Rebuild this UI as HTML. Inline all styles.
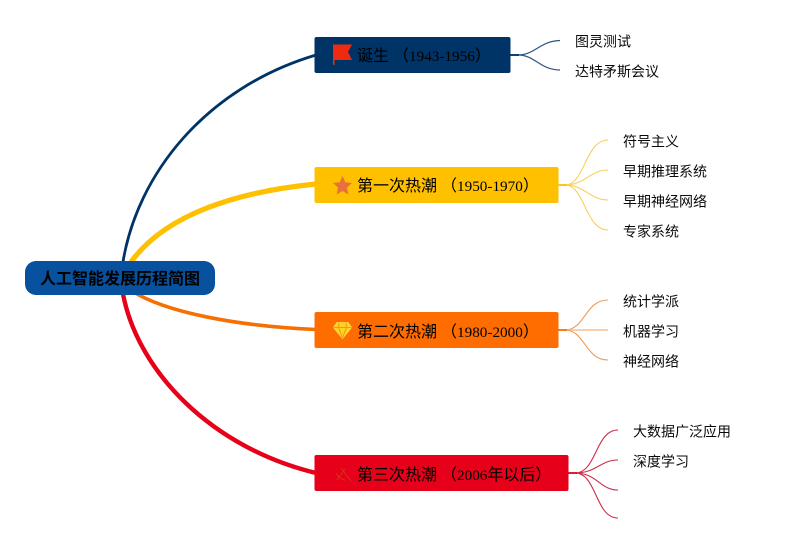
<!DOCTYPE html>
<html><head><meta charset="utf-8">
<style>
html,body{margin:0;padding:0;background:#fff;}
body{width:791px;height:543px;overflow:hidden;}
svg{display:block;}
text{font-family:"Liberation Serif","Noto Sans CJK SC",serif;font-size:14px;fill:#0a0a0a;}
.b{font-size:16px;fill:#000;}
.n{font-size:15.2px;}
</style></head><body>
<svg width="791" height="543" viewBox="0 0 791 543" xmlns="http://www.w3.org/2000/svg">
<g fill="none">
<path d="M123 262C137 175 205 88 316 55" stroke="#003366" stroke-width="2.800"/>
<path d="M131 262C165 215 235 192 316 184" stroke="#ffc000" stroke-width="5.200"/>
<path d="M132 291C165 312 235 326 316 329.500" stroke="#f57000" stroke-width="3.600"/>
<path d="M123 294C138 372 212 448 316 473" stroke="#e60019" stroke-width="4.400"/>
<g stroke="#2f5580" stroke-width="1.200">
<path d="M510 55H518C535 55 540 41 560 40.500"/>
<path d="M510 55H518C535 55 540 70 560 70"/>
<path d="M510 55H519" stroke="#003366" stroke-width="1.800"/>
</g>
<g stroke="#f8cf5a" stroke-width="1.100">
<path d="M558 185H565C585 185 585 140 608 140"/>
<path d="M558 185H565C585 185 590 170 608 170"/>
<path d="M558 185H565C585 185 590 200 608 200"/>
<path d="M558 185H565C585 185 585 230 608 230"/>
<path d="M558 185H567" stroke="#ffc000" stroke-width="1.800"/>
</g>
<g stroke="#ee9a55" stroke-width="1.100">
<path d="M558 330H565C585 330 585 300 608 300"/>
<path d="M558 330H608" stroke-width="1.500" stroke="#f6c096"/>
<path d="M558 330H565C585 330 585 360 608 360"/>
<path d="M558 330H567" stroke="#f57000" stroke-width="1.800"/>
</g>
<g stroke="#cf2d48" stroke-width="1.100">
<path d="M568 473H575C597 473 595 430 618 430"/>
<path d="M568 473H575C597 473 600 460 618 460"/>
<path d="M568 473H575C597 473 600 490 618 490"/>
<path d="M568 473H575C597 473 595 518 618 518"/>
<path d="M568 473H577" stroke="#e60019" stroke-width="1.800"/>
</g>
</g>
<rect x="25" y="261" width="190" height="34" rx="11" fill="#07519f"/>
<text x="40" y="284" class="b" style="font-weight:bold">人工智能发展历程简图</text>

<rect x="314.500" y="37" width="196" height="36" rx="2" fill="#003366"/>
<path d="M333 44.500H352L348 52L352 60H334.500V65H333Z" fill="#f02a10"/>
<text x="357" y="61" class="b">诞生 （<tspan class="n">1943-1956</tspan>）</text>

<rect x="314.500" y="167" width="244" height="36" rx="2" fill="#ffc000"/>
<path d="M342.500 176L345.300 182.300L352 183L347 187.600L348.400 194.500L342.500 191L336.600 194.500L338 187.600L333 183L339.700 182.300Z" fill="#e8703a"/>
<text x="357" y="191" class="b">第一次热潮 （<tspan class="n">1950-1970</tspan>）</text>

<rect x="314.500" y="312" width="244" height="36" rx="2" fill="#ff6d00"/>
<path d="M337 322.500H348L351.500 327.500L342.500 338.500L333.500 327.500Z" fill="#ffd21f" stroke="#ffe15a" stroke-width="0.800"/>
<path d="M333.500 327.500H351.500M338.500 327.500L342.500 338M346.500 327.500L342.500 338M339 322.500L338.500 327.500M346 322.500L346.500 327.500" fill="none" stroke="#f09a10" stroke-width="1"/>
<text x="357" y="337" class="b">第二次热潮 （<tspan class="n">1980-2000</tspan>）</text>

<rect x="314.500" y="455" width="254" height="36" rx="2" fill="#e60019"/>
<path d="M337 480L345 469M341 468L351 481M336 473C338 477 341 479 345 480" fill="none" stroke="#d8301a" stroke-width="1"/>
<text x="357" y="480" class="b">第三次热潮 （<tspan class="n">2006</tspan>年以后）</text>

<text x="575" y="46.500">图灵测试</text>
<text x="575" y="76.500">达特矛斯会议</text>
<text x="623" y="146.500">符号主义</text>
<text x="623" y="176.500">早期推理系统</text>
<text x="623" y="206.500">早期神经网络</text>
<text x="623" y="236.500">专家系统</text>
<text x="623" y="306.500">统计学派</text>
<text x="623" y="336.500">机器学习</text>
<text x="623" y="366.500">神经网络</text>
<text x="633" y="436.500">大数据广泛应用</text>
<text x="633" y="466.500">深度学习</text>
</svg>
</body></html>
